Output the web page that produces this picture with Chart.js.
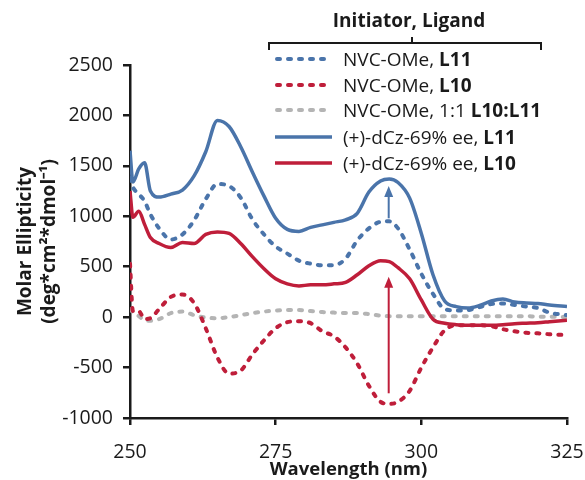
<!DOCTYPE html>
<html>
<head>
<meta charset="utf-8">
<script src="https://cdn.jsdelivr.net/npm/chart.js@4/dist/chart.umd.min.js"></script>
<style>
    html, body { margin: 0; padding: 0; background: #fff; }
    #wrap { position: relative; width: 585px; height: 480px; font-family: "Open Sans", sans-serif; color: #1a1a1a; }
    #chart { position: absolute; left: 0; top: 0; }
    #legend { position: absolute; left: 0; top: 0; width: 585px; height: 180px; pointer-events: none; }
    .leg-title { position: absolute; left: 309px; width: 200px; top: 8px; text-align: center; font-weight: bold; font-size: 19px; line-height: 24px; }
    .leg-item { position: absolute; left: 343px; font-size: 19px; line-height: 24px; white-space: nowrap; }
    svg { position: absolute; left: 0; top: 0; }
</style>
</head>
<body>
<div id="wrap">
    <canvas id="chart" width="585" height="480"></canvas>
    <div id="legend"></div>
</div>
<script>
// Wavelength grid (nm) shared by all spectra
const wavelengths = [250, 250.5, 251.5, 252.5, 253.5, 255, 257, 259, 261, 263, 265, 267, 269, 271, 273, 275, 277, 279, 281, 283, 285, 287, 289, 291, 293, 294.5, 296, 298, 300, 302, 304, 306, 308, 310, 312, 314, 316, 318, 320, 322, 325];

// Molar ellipticity
const nvcL11 = [1380, 1290, 1220, 1150, 1020, 880, 770, 820, 960, 1170, 1320, 1300, 1185, 970, 820, 700, 630, 560, 530, 515, 515, 580, 760, 880, 945, 950, 880, 670, 430, 230, 80, 65, 70, 100, 130, 135, 120, 105, 90, 45, 20];
const nvcL10 = [530, 60, 60, -20, -10, 80, 200, 225, 140, -110, -400, -560, -530, -370, -230, -110, -50, -40, -60, -140, -190, -300, -460, -680, -840, -860, -840, -730, -500, -300, -130, -80, -80, -80, -90, -120, -140, -155, -160, -170, -178];
const nvcMix = [80, 50, 10, -30, -35, -20, 40, 55, 20, -5, -10, 0, 20, 40, 55, 65, 70, 70, 60, 50, 45, 40, 40, 30, 15, 10, 10, 10, 10, 10, 10, 10, 10, 10, 10, 10, 10, 10, 5, 5, 0];
const dczL11 = [1650, 1340, 1470, 1530, 1250, 1190, 1220, 1260, 1400, 1640, 1950, 1890, 1690, 1440, 1200, 980, 870, 850, 890, 915, 940, 965, 1030, 1240, 1350, 1370, 1335, 1180, 830, 420, 160, 105, 90, 115, 160, 180, 150, 140, 135, 120, 105];
const dczL10 = [1250, 990, 1050, 920, 790, 730, 690, 740, 730, 820, 845, 830, 730, 600, 480, 380, 330, 310, 320, 320, 330, 345, 420, 510, 560, 550, 490, 380, 170, -20, -60, -75, -80, -80, -80, -75, -65, -60, -55, -45, -30];

// Arrows: wavelength, start value, tip value
const arrowX = [294.4, 294.4];
const arrowFrom = [980, -755];
const arrowTo = [1300, 400];

const xTicks = [250, 275, 300, 325];
const yTicks = [-1000, -500, 0, 500, 1000, 1500, 2000, 2500];

const BLUE = '#4a74aa';
const RED = '#bf1e3a';
const GRAY = '#b4b4b4';
const INK = '#1a1a1a';
const FONT = 'Open Sans';

const seriesDefs = [
    { label: 'NVC-OMe, L11', bold: 'L11', data: nvcL11, color: BLUE, dashed: true },
    { label: 'NVC-OMe, L10', bold: 'L10', data: nvcL10, color: RED, dashed: true },
    { label: 'NVC-OMe, 1:1 L10:L11', bold: 'L10:L11', data: nvcMix, color: GRAY, dashed: true },
    { label: '(+)-dCz-69% ee, L11', bold: 'L11', data: dczL11, color: BLUE, dashed: false },
    { label: '(+)-dCz-69% ee, L10', bold: 'L10', data: dczL10, color: RED, dashed: false },
];

function toPoints(values) {
    return wavelengths.map((w, i) => ({ x: w, y: values[i] }));
}

const arrowPlugin = {
    id: 'arrows',
    afterDatasetsDraw(chart) {
        const { ctx, scales } = chart;
        const colors = [BLUE, RED];
        arrowX.forEach((w, i) => {
            const x = scales.x.getPixelForValue(w);
            const y0 = scales.y.getPixelForValue(arrowFrom[i]);
            const y1 = scales.y.getPixelForValue(arrowTo[i]);
            ctx.save();
            ctx.strokeStyle = colors[i];
            ctx.fillStyle = colors[i];
            ctx.lineWidth = 2;
            ctx.beginPath();
            ctx.moveTo(x, y0);
            ctx.lineTo(x, y1 + 8);
            ctx.stroke();
            ctx.beginPath();
            ctx.moveTo(x, y1);
            ctx.lineTo(x - 4.5, y1 + 11);
            ctx.lineTo(x + 4.5, y1 + 11);
            ctx.closePath();
            ctx.fill();
            ctx.restore();
        });
    },
};

new Chart(document.getElementById('chart'), {
    type: 'line',
    data: {
        datasets: seriesDefs.map((s) => ({
            label: s.label,
            data: toPoints(s.data),
            borderColor: s.color,
            borderWidth: s.dashed ? 4 : 3.5,
            borderDash: s.dashed ? [3, 8] : [],
            borderCapStyle: s.dashed ? 'round' : 'butt',
            pointRadius: 0,
            tension: 0.4,
            cubicInterpolationMode: 'monotone',
            fill: false,
            order: s.dashed ? 2 : 1,
        })),
    },
    options: {
        responsive: false,
        animation: false,
        layout: { padding: { left: 0, right: 18, top: 65, bottom: 0 } },
        plugins: {
            legend: { display: false },
            tooltip: { enabled: false },
        },
        scales: {
            x: {
                type: 'linear',
                min: 250,
                max: 325,
                afterBuildTicks: (scale) => { scale.ticks = xTicks.map(v => ({ value: v })); },
                afterFit: (scale) => {
                    scale.height = 62;
                    scale.paddingLeft = 0;
                    scale.paddingRight = 0;
                },
                border: { color: INK, width: 2.5 },
                grid: { drawOnChartArea: false, drawTicks: true, tickLength: 7, color: INK, lineWidth: 2.5 },
                ticks: { color: INK, padding: 16, font: { family: FONT, size: 19.5 }, callback: (v) => String(v) },
                title: {
                    display: true,
                    text: 'Wavelength (nm)',
                    color: INK,
                    padding: { top: 0, bottom: 0 },
                    font: { family: FONT, size: 18.5, weight: 'bold', lineHeight: 1.1 },
                },
            },
            y: {
                min: -1000,
                max: 2500,
                afterBuildTicks: (scale) => { scale.ticks = yTicks.map(v => ({ value: v })); },
                afterFit: (scale) => { scale.width = 130; },
                border: { color: INK, width: 2.5 },
                grid: { drawOnChartArea: false, drawTicks: true, tickLength: 7, color: INK, lineWidth: 2.5 },
                ticks: { color: INK, padding: 10, font: { family: FONT, size: 19.5 }, callback: (v) => String(v) },
                title: {
                    display: true,
                    text: ['Molar Ellipticity', '(deg*cm²*dmol⁻¹)'],
                    color: INK,
                    padding: { top: 14, bottom: 0 },
                    font: { family: FONT, size: 19, weight: 'bold', lineHeight: 1.25 },
                },
            },
        },
    },
    plugins: [arrowPlugin],
});

// Legend with bracket, built as HTML/SVG so bold parts stay real text
(function buildLegend() {
    const legend = document.getElementById('legend');
    const rowY = [59, 85, 110, 137, 163];
    let svg = '<svg width="585" height="180" xmlns="http://www.w3.org/2000/svg">';
    svg += `<path d="M269,50 L269,43 L541,43 L541,50 M412,43 L412,37" stroke="${INK}" stroke-width="2" fill="none"/>`;
    seriesDefs.forEach((s, i) => {
        const dash = s.dashed ? 'stroke-dasharray="3 8" stroke-linecap="round"' : '';
        const x1 = s.dashed ? 277 : 275;
        svg += `<line x1="${x1}" y1="${rowY[i]}" x2="332" y2="${rowY[i]}" stroke="${s.color}" stroke-width="${s.dashed ? 4 : 3.5}" ${dash}/>`;
    });
    svg += '</svg>';
    let html = svg + '<div class="leg-title">Initiator, Ligand</div>';
    seriesDefs.forEach((s, i) => {
        const plain = s.label.slice(0, s.label.length - s.bold.length);
        html += `<div class="leg-item" style="top:${rowY[i] - 12}px">${plain}<b>${s.bold}</b></div>`;
    });
    legend.innerHTML = html;
})();
</script>
</body>
</html>
